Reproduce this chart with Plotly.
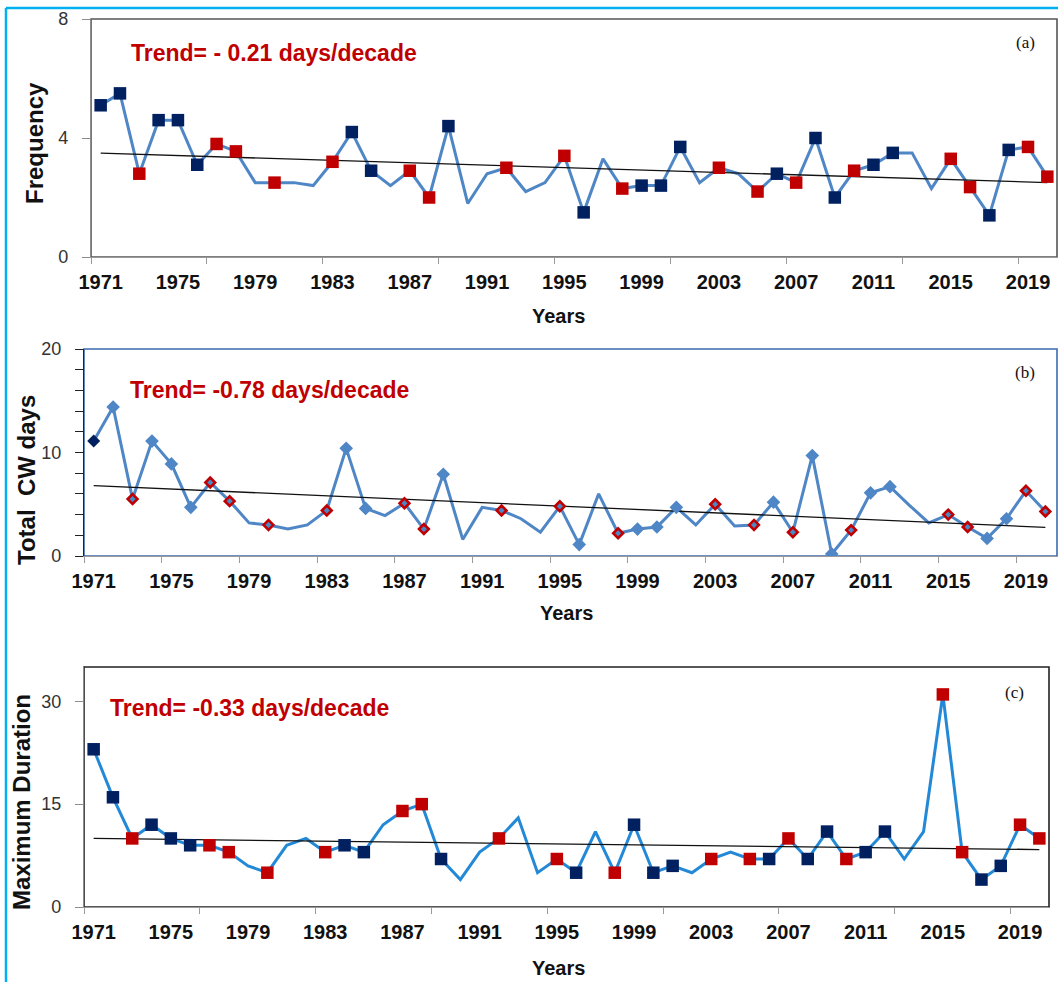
import plotly.graph_objects as go

# ---------------- data ----------------
years = list(range(1971, 2021))
label_years = list(range(1971, 2021, 4))

frequency = [5.1, 5.5, 2.8, 4.6, 4.6, 3.1, 3.8, 3.55, 2.5, 2.5,
             2.5, 2.4, 3.2, 4.2, 2.9, 2.4, 2.9, 2.0, 4.4, 1.8,
             2.8, 3.0, 2.2, 2.5, 3.4, 1.5, 3.3, 2.3, 2.4, 2.4,
             3.7, 2.5, 3.0, 2.8, 2.2, 2.8, 2.5, 4.0, 2.0, 2.9,
             3.1, 3.5, 3.5, 2.3, 3.3, 2.35, 1.4, 3.6, 3.7, 2.7]

total_cw_days = [11.1, 14.4, 5.5, 11.1, 8.9, 4.7, 7.1, 5.3, 3.2, 3.0,
                 2.6, 3.0, 4.4, 10.4, 4.6, 3.9, 5.1, 2.6, 7.9, 1.6,
                 4.7, 4.4, 3.6, 2.3, 4.8, 1.1, 6.0, 2.2, 2.6, 2.8,
                 4.7, 3.0, 5.0, 2.9, 3.0, 5.2, 2.3, 9.7, 0.2, 2.5,
                 6.1, 6.7, 4.9, 3.2, 4.0, 2.8, 1.7, 3.6, 6.3, 4.3]

max_duration = [23, 16, 10, 12, 10, 9, 9, 8, 6, 5,
                9, 10, 8, 9, 8, 12, 14, 15, 7, 4,
                8, 10, 13, 5, 7, 5, 11, 5, 12, 5,
                6, 5, 7, 8, 7, 7, 10, 7, 11, 7,
                8, 11, 7, 11, 31, 8, 4, 6, 12, 10]

# marker class per year: N = navy, R = red, - = no marker
marker_class = ["N", "N", "R", "N", "N", "N", "R", "R", "-", "R",
                "-", "-", "R", "N", "N", "-", "R", "R", "N", "-",
                "-", "R", "-", "-", "R", "N", "-", "R", "N", "N",
                "N", "-", "R", "-", "R", "N", "R", "N", "N", "R",
                "N", "N", "-", "-", "R", "R", "N", "N", "R", "R"]

trend_years = [1971, 2020]
trend_frequency = [3.49, 2.50]
trend_total = [6.8, 2.77]
trend_duration = [10.0, 8.38]

trend_labels = ["Trend= - 0.21 days/decade",
                "Trend= -0.78 days/decade",
                "Trend= -0.33 days/decade"]
panel_labels = ["(a)", "(b)", "(c)"]
y_titles = ["Frequency", "Total  CW days", "Maximum Duration"]

# ---------------- styling ----------------
W, H = 1058, 982
NAVY = "#002060"
RED = "#C00000"
LINE_AB = "#4F86C6"
LINE_C = "#2389D7"
SANS = "Liberation Sans, Arial, sans-serif"
SERIF = "Liberation Serif, Times New Roman, serif"


def px_x(v):
    return v / W


def px_y(v):
    return 1 - v / H


def sel(vals, cls, want):
    xs, ys = [], []
    for yr, v, c in zip(years, vals, cls):
        if c == want:
            xs.append(yr)
            ys.append(v)
    return xs, ys


fig = go.Figure()

panels = [
    dict(vals=frequency, trend=trend_frequency, line=LINE_AB, xa="x", ya="y"),
    dict(vals=total_cw_days, trend=trend_total, line=LINE_AB, xa="x2", ya="y2"),
    dict(vals=max_duration, trend=trend_duration, line=LINE_C, xa="x3", ya="y3"),
]

for i, p in enumerate(panels):
    fig.add_trace(go.Scatter(x=years, y=p["vals"], mode="lines",
                             line=dict(color=p["line"], width=3),
                             xaxis=p["xa"], yaxis=p["ya"], showlegend=False,
                             hoverinfo="skip"))
    fig.add_trace(go.Scatter(x=trend_years, y=p["trend"], mode="lines",
                             line=dict(color="#111111", width=1.3),
                             xaxis=p["xa"], yaxis=p["ya"], showlegend=False,
                             hoverinfo="skip"))
    if i == 1:
        cw_class = ["N"] + ["B" if c == "N" else c for c in marker_class[1:]]
        bx, by = sel(p["vals"], cw_class, "B")
        fig.add_trace(go.Scatter(x=bx, y=by, mode="markers",
                                 marker=dict(symbol="diamond", size=10.5, color=LINE_AB,
                                             line=dict(width=0)),
                                 xaxis=p["xa"], yaxis=p["ya"], showlegend=False))
        nx, ny = sel(p["vals"], cw_class, "N")
        fig.add_trace(go.Scatter(x=nx, y=ny, mode="markers",
                                 marker=dict(symbol="diamond", size=10, color=NAVY,
                                             line=dict(width=0)),
                                 xaxis=p["xa"], yaxis=p["ya"], showlegend=False))
        rx, ry = sel(p["vals"], cw_class, "R")
        fig.add_trace(go.Scatter(x=rx, y=ry, mode="markers",
                                 marker=dict(symbol="diamond", size=7.5, color=LINE_AB,
                                             line=dict(color=RED, width=2.6)),
                                 xaxis=p["xa"], yaxis=p["ya"], showlegend=False))
    else:
        nx, ny = sel(p["vals"], marker_class, "N")
        fig.add_trace(go.Scatter(x=nx, y=ny, mode="markers",
                                 marker=dict(symbol="square", size=12.5, color=NAVY,
                                             line=dict(width=0)),
                                 xaxis=p["xa"], yaxis=p["ya"], showlegend=False))
        rx, ry = sel(p["vals"], marker_class, "R")
        fig.add_trace(go.Scatter(x=rx, y=ry, mode="markers",
                                 marker=dict(symbol="square", size=12.5, color=RED,
                                             line=dict(width=0)),
                                 xaxis=p["xa"], yaxis=p["ya"], showlegend=False))

# ---------------- axes ----------------
geo = [
    dict(l=91, r=1057, t=19, b=257, yr=[0, 8], yt=[0, 4, 8], step=6, box="#555555",
         lc="#8c8c8c", minor_y=None, xr=[1970.5, 2020.5]),
    dict(l=84, r=1057, t=349, b=556, yr=[0, 20], yt=[0, 10, 20], step=4, box="#3B6BB0",
         lc="#222222", minor_y=[2, 4, 6, 8, 12, 14, 16, 18], xr=[1970.5, 2020.6]),
    dict(l=84, r=1049, t=667, b=907, yr=[0, 35], yt=[0, 15, 30], step=6, box="#222222",
         lc="#8c8c8c", minor_y=None, xr=[1970.5, 2020.5]),
]

layout = dict(width=W, height=H, margin=dict(l=0, r=0, t=0, b=0, pad=0, autoexpand=False),
              paper_bgcolor="white", plot_bgcolor="white", showlegend=False)
shapes = []
annotations = []

for i, g in enumerate(geo):
    sx = "" if i == 0 else str(i + 1)
    boundaries = [1970.5 + k * g["step"] for k in range(0, 49 // g["step"] + 1)]
    layout["xaxis" + sx] = dict(
        domain=[px_x(g["l"]), px_x(g["r"])], range=g["xr"], anchor="y" + sx,
        automargin=False,
        tickmode="array", tickvals=label_years, ticktext=[str(v) for v in label_years],
        ticks="", showgrid=False, zeroline=False,
        showline=True, linecolor="#9a9a9a", linewidth=1.3,
        tickfont=dict(family=SANS, size=20, color="#111111", weight="bold"),
        ticklabelstandoff=7,
        minor=dict(tickmode="array", tickvals=boundaries, ticks="outside",
                   ticklen=6, tickwidth=1.3, tickcolor="#9a9a9a", showgrid=False),
    )
    ydict = dict(
        domain=[px_y(g["b"]), px_y(g["t"])], range=g["yr"], anchor="x" + sx,
        automargin=False,
        tickmode="array", tickvals=g["yt"], ticks="outside", ticklen=8,
        tickwidth=1.3, tickcolor=g["lc"], showgrid=False, zeroline=False,
        showline=True, linecolor=g["lc"], linewidth=1.3,
        tickfont=dict(family=SANS, size=18, color="#333333"),
        ticklabelstandoff=10,
    )
    if g["minor_y"]:
        ydict["minor"] = dict(tickmode="array", tickvals=g["minor_y"], ticks="outside",
                              ticklen=8, tickwidth=1.3, tickcolor=g["lc"], showgrid=False)
    layout["yaxis" + sx] = ydict

    shapes.append(dict(type="rect", xref="x" + sx + " domain", yref="y" + sx + " domain",
                       x0=0, x1=1, y0=0, y1=1, line=dict(color=g["box"], width=1.6),
                       layer="below"))

# cyan outer frame
shapes.append(dict(type="line", xref="paper", yref="paper", x0=px_x(6), x1=1,
                   y0=px_y(8), y1=px_y(8), line=dict(color="#00B0F0", width=2.5)))
shapes.append(dict(type="line", xref="paper", yref="paper", x0=px_x(6), x1=px_x(6),
                   y0=px_y(8), y1=0, line=dict(color="#00B0F0", width=2.5)))

# trend texts
trend_pos = [(129, 53), (128, 390), (108, 708)]
for txt, (x, y) in zip(trend_labels, trend_pos):
    annotations.append(dict(text=txt, xref="paper", yref="paper", x=px_x(x), y=px_y(y),
                            xanchor="left", yanchor="middle", showarrow=False,
                            font=dict(family=SANS, size=23, color=RED, weight="bold")))

# panel letters
letter_pos = [(1025, 42), (1025, 372), (1015, 692)]
for txt, (x, y) in zip(panel_labels, letter_pos):
    annotations.append(dict(text=txt, xref="paper", yref="paper", x=px_x(x), y=px_y(y),
                            xanchor="center", yanchor="middle", showarrow=False,
                            font=dict(family=SERIF, size=17, color="#111111")))

# y titles
ytitle_pos = [(34, 143), (26, 480), (21, 802)]
for txt, (x, y) in zip(y_titles, ytitle_pos):
    annotations.append(dict(text=txt, xref="paper", yref="paper", x=px_x(x), y=px_y(y),
                            xanchor="center", yanchor="middle", showarrow=False,
                            textangle=-90,
                            font=dict(family=SANS, size=24, color="#111111", weight="bold")))

# x titles
years_pos = [(558, 316), (566, 613), (558, 968)]
for (x, y) in years_pos:
    annotations.append(dict(text="Years", xref="paper", yref="paper", x=px_x(x), y=px_y(y),
                            xanchor="center", yanchor="middle", showarrow=False,
                            font=dict(family=SANS, size=20, color="#111111", weight="bold")))

layout["shapes"] = shapes
layout["annotations"] = annotations
fig.update_layout(**layout)

post = ("document.documentElement.style.margin='0';document.body.style.margin='0';"
        "document.body.style.overflow='hidden';"
        "var gd=document.getElementById('{plot_id}');"
        "gd.style.position='fixed';gd.style.left='0px';gd.style.top='0px';")
fig.write_html("out.html", config={"displayModeBar": False}, post_script=post)
